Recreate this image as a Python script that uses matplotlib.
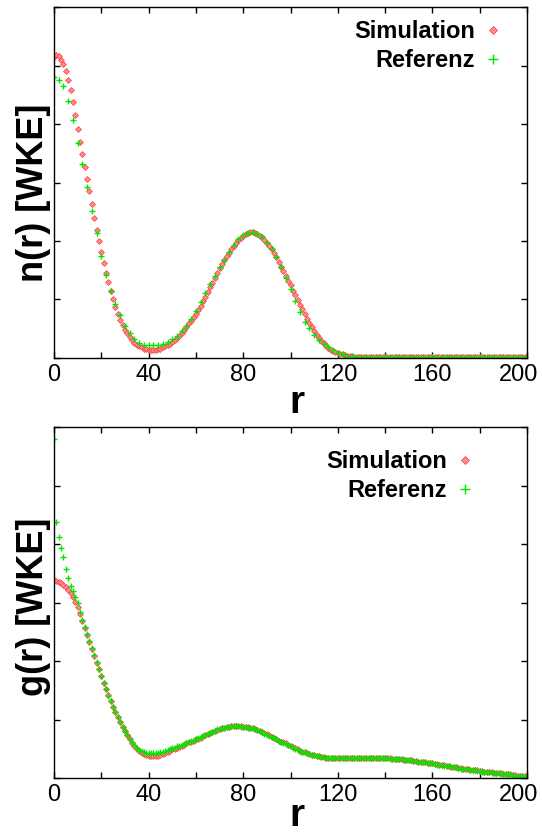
import numpy as np
import matplotlib
matplotlib.use("Agg")
import matplotlib.pyplot as plt
from matplotlib.transforms import ScaledTranslation

plt.rcParams['font.family'] = ['Liberation Sans', 'DejaVu Sans']

# r grids
r_sim = np.arange(0, 201, 1)
r_ref_n = np.arange(0, 201, 2)
r_ref_g = np.arange(0, 201, 1)

# n(r) simulation (step 1)
n_sim = [5.15, 5.18, 5.16, 5.10, 5.02, 4.90, 4.76, 4.58, 4.38, 4.15,
         3.92, 3.70, 3.48, 3.26, 3.06, 2.86, 2.63, 2.40, 2.19, 2.00,
         1.81, 1.62, 1.45, 1.30, 1.14, 1.00, 0.88, 0.76, 0.65, 0.56,
         0.48, 0.42, 0.36, 0.31, 0.26, 0.23, 0.20, 0.18, 0.16, 0.15,
         0.14, 0.14, 0.14, 0.14, 0.15, 0.16, 0.18, 0.20, 0.22, 0.24,
         0.27, 0.30, 0.34, 0.38, 0.43, 0.48, 0.53, 0.59, 0.64, 0.70,
         0.76, 0.82, 0.89, 0.97, 1.05, 1.13, 1.21, 1.29, 1.37, 1.45,
         1.53, 1.60, 1.67, 1.74, 1.80, 1.86, 1.91, 1.96, 2.01, 2.05,
         2.09, 2.12, 2.14, 2.15, 2.15, 2.14, 2.12, 2.09, 2.06, 2.02,
         1.97, 1.92, 1.86, 1.79, 1.72, 1.64, 1.56, 1.48, 1.40, 1.32,
         1.24, 1.15, 1.07, 0.99, 0.91, 0.83, 0.75, 0.67, 0.60, 0.53,
         0.46, 0.40, 0.34, 0.29, 0.25, 0.21, 0.17, 0.14, 0.12, 0.10,
         0.08, 0.07, 0.06, 0.05, 0.04, 0.03, 0.03, 0.02, 0.02, 0.02,
         0.01, 0.01, 0.01, 0.01, 0.01, 0.01, 0.01, 0.01, 0.01, 0.01,
         0.01, 0.01, 0.01, 0.01, 0.01, 0.01, 0.01, 0.01, 0.01, 0.01,
         0.01, 0.01, 0.01, 0.01, 0.01, 0.01, 0.01, 0.01, 0.01, 0.01,
         0.01, 0.01, 0.01, 0.01, 0.01, 0.01, 0.01, 0.01, 0.01, 0.01,
         0.01, 0.01, 0.01, 0.01, 0.01, 0.01, 0.01, 0.01, 0.01, 0.01,
         0.01, 0.01, 0.01, 0.01, 0.01, 0.01, 0.01, 0.01, 0.01, 0.01,
         0.01, 0.01, 0.01, 0.01, 0.01, 0.01, 0.01, 0.01, 0.01, 0.01,
         0.01]

# n(r) reference (step 2)
n_ref = [4.81, 4.76, 4.65, 4.40, 4.06, 3.68, 3.32, 2.92, 2.52, 2.13,
         1.75, 1.42, 1.15, 0.93, 0.73, 0.55, 0.42, 0.32, 0.26, 0.23,
         0.22, 0.22, 0.22, 0.24, 0.27, 0.32, 0.38, 0.46, 0.55, 0.67,
         0.80, 0.95, 1.11, 1.26, 1.40, 1.55, 1.68, 1.81, 1.93, 2.03,
         2.10, 2.14, 2.15, 2.12, 2.06, 1.97, 1.86, 1.72, 1.55, 1.37,
         1.18, 0.98, 0.78, 0.62, 0.51, 0.40, 0.31, 0.24, 0.18, 0.13,
         0.09, 0.06, 0.04, 0.03, 0.02,
         0.01, 0.01, 0.01, 0.01, 0.01, 0.01, 0.01, 0.01, 0.01, 0.01,
         0.01, 0.01, 0.01, 0.01, 0.01, 0.01, 0.01, 0.01, 0.01, 0.01,
         0.01, 0.01, 0.01, 0.01, 0.01, 0.01, 0.01, 0.01, 0.01, 0.01,
         0.01, 0.01, 0.01, 0.01, 0.01, 0.01]

# g(r) simulation (step 1)
g_sim = [3.38, 3.37, 3.35, 3.33, 3.30, 3.26, 3.22, 3.16, 3.09, 3.01,
         2.92, 2.80, 2.68, 2.57, 2.45, 2.33, 2.21, 2.09, 1.97, 1.86,
         1.74, 1.63, 1.52, 1.42, 1.32, 1.22, 1.13, 1.04, 0.96, 0.88,
         0.80, 0.73, 0.66, 0.60, 0.55, 0.50, 0.46, 0.43, 0.41, 0.39,
         0.38, 0.37, 0.37, 0.37, 0.38, 0.39, 0.41, 0.43, 0.45, 0.47,
         0.49, 0.50, 0.52, 0.53, 0.55, 0.57, 0.59, 0.61, 0.62, 0.64,
         0.66, 0.67, 0.69, 0.71, 0.73, 0.75, 0.77, 0.78, 0.80, 0.82,
         0.84, 0.85, 0.86, 0.87, 0.88, 0.89, 0.89, 0.89, 0.89, 0.89,
         0.88, 0.88, 0.87, 0.86, 0.85, 0.84, 0.82, 0.81, 0.79, 0.77,
         0.75, 0.73, 0.70, 0.68, 0.66, 0.64, 0.62, 0.61, 0.59, 0.57,
         0.55, 0.53, 0.51, 0.49, 0.47, 0.45, 0.44, 0.42, 0.41, 0.40,
         0.39, 0.38, 0.37, 0.36, 0.36, 0.35, 0.35, 0.35, 0.34, 0.34,
         0.34, 0.34, 0.34, 0.34, 0.34, 0.34, 0.34, 0.35, 0.35, 0.35,
         0.35, 0.35, 0.35, 0.35, 0.35, 0.35, 0.35, 0.35, 0.35, 0.34,
         0.34, 0.34, 0.34, 0.33, 0.33, 0.33, 0.32, 0.32, 0.31, 0.31,
         0.30, 0.30, 0.29, 0.29, 0.28, 0.28, 0.27, 0.27, 0.26, 0.26,
         0.25, 0.24, 0.24, 0.23, 0.22, 0.22, 0.21, 0.20, 0.19, 0.19,
         0.18, 0.17, 0.17, 0.16, 0.15, 0.15, 0.14, 0.14, 0.13, 0.13,
         0.12, 0.12, 0.11, 0.11, 0.10, 0.10, 0.09, 0.09, 0.08, 0.08,
         0.07, 0.07, 0.06, 0.06, 0.05, 0.05, 0.04, 0.04, 0.03, 0.03,
         0.02]

# g(r) reference (step 1)
g_ref = [5.80, 4.38, 4.12, 3.94, 3.77, 3.57, 3.42, 3.29, 3.19, 3.10,
         3.00, 2.84, 2.70, 2.58, 2.46, 2.34, 2.22, 2.10, 1.98, 1.86,
         1.74, 1.63, 1.52, 1.41, 1.31, 1.22, 1.13, 1.04, 0.96, 0.88,
         0.80, 0.73, 0.67, 0.61, 0.56, 0.52, 0.48, 0.46, 0.44, 0.43,
         0.43, 0.42, 0.42, 0.43, 0.43, 0.44, 0.45, 0.46, 0.48, 0.49,
         0.51, 0.52, 0.54, 0.55, 0.57, 0.58, 0.60, 0.62, 0.63, 0.65,
         0.67, 0.68, 0.70, 0.72, 0.74, 0.76, 0.77, 0.79, 0.81, 0.83,
         0.84, 0.85, 0.86, 0.87, 0.88, 0.89, 0.89, 0.89, 0.89, 0.88,
         0.88, 0.87, 0.86, 0.86, 0.85, 0.83, 0.82, 0.80, 0.78, 0.76,
         0.74, 0.72, 0.70, 0.68, 0.66, 0.64, 0.62, 0.60, 0.58, 0.56,
         0.54, 0.52, 0.50, 0.48, 0.47, 0.45, 0.44, 0.42, 0.41, 0.40,
         0.39, 0.38, 0.37, 0.36, 0.36, 0.35, 0.35, 0.34, 0.34, 0.34,
         0.34, 0.34, 0.34, 0.34, 0.34, 0.34, 0.34, 0.34, 0.34, 0.34,
         0.34, 0.34, 0.35, 0.35, 0.34, 0.34, 0.34, 0.34, 0.34, 0.34,
         0.34, 0.34, 0.33, 0.33, 0.33, 0.32, 0.32, 0.32, 0.31, 0.31,
         0.30, 0.30, 0.29, 0.29, 0.28, 0.28, 0.27, 0.27, 0.26, 0.25,
         0.25, 0.24, 0.23, 0.23, 0.22, 0.21, 0.21, 0.20, 0.19, 0.19,
         0.18, 0.17, 0.16, 0.16, 0.15, 0.15, 0.14, 0.13, 0.13, 0.12,
         0.12, 0.11, 0.11, 0.10, 0.10, 0.09, 0.09, 0.08, 0.08, 0.07,
         0.07, 0.06, 0.06, 0.05, 0.05, 0.04, 0.04, 0.03, 0.03, 0.02,
         0.02]

xticks = np.arange(0, 201, 20)
xticklabels = [str(t) if t % 40 == 0 else '' for t in xticks]
yticks = np.arange(0, 7, 1)

W, H = 542, 836
fig = plt.figure(figsize=(W / 100, H / 100), dpi=100)

ax1 = fig.add_axes([54 / W, 1 - 358 / H, 473 / W, 351 / H])
ax2 = fig.add_axes([54 / W, 1 - 778 / H, 473 / W, 351 / H])

sim_style = dict(ls='none', marker='D', ms=3, mfc='#ff8c8c', mec='#ff3838', mew=0.5)
ref_style = dict(ls='none', marker='+', ms=4.5, mew=1.0, color='#00e600')

panels = [(ax1, r_sim, n_sim, r_ref_n, n_ref, 'n(r) [WKE]', 193, 413, (0.968, 0.99)),
          (ax2, r_sim, g_sim, r_ref_g, g_ref, 'g(r) [WKE]', 607, 826, (0.909, 0.961))]

for ax, rs, ys, rr, yr, ylab, ylab_y, xlab_y, leg_anchor in panels:
    ax.plot(rs, ys, label='Simulation', **sim_style)
    ax.plot(rr, yr, label='Referenz', **ref_style)
    ax.set_xlim(0, 200)
    ax.set_ylim(0, 6)
    ax.set_xticks(xticks)
    ax.set_xticklabels(xticklabels, fontsize=17)
    ax.set_yticks(yticks)
    ax.set_yticklabels([])
    ax.tick_params(direction='in', top=True, right=True, length=4, width=1, pad=4)
    # last label sits a little inside, like the original
    last = ax.get_xticklabels()[-1]
    last.set_transform(last.get_transform() + ScaledTranslation(-0.08, 0, fig.dpi_scale_trans))
    for s in ax.spines.values():
        s.set_linewidth(1)
    ax.legend(loc='upper right', bbox_to_anchor=leg_anchor, frameon=False,
              markerfirst=False, handlelength=0.8, handletextpad=0.35,
              labelspacing=0.25, borderaxespad=0, markerscale=1.5,
              prop=dict(size=17, weight='bold'))
    fig.text(34 / W, 1 - ylab_y / H, ylab, rotation=90, ha='center', va='center',
             fontsize=26, fontweight='bold')
    fig.text(297 / W, 1 - xlab_y / H, 'r', ha='center', va='baseline',
             fontsize=28, fontweight='bold')

fig.savefig('out.png', dpi=100)
